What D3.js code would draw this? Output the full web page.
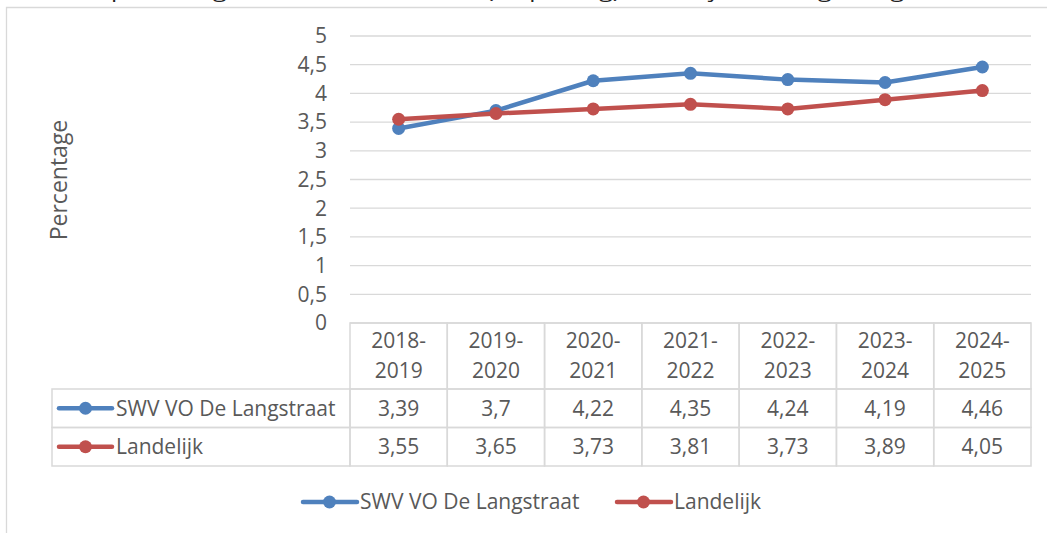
<!DOCTYPE html>
<meta charset="utf-8">
<style>
body { margin: 0; background: #fff; }
text { font-family: "Open Sans", sans-serif; fill: #595959; }
.grid line { stroke: #d9d9d9; stroke-width: 1.3; }
.cell { fill: none; stroke: #d9d9d9; stroke-width: 1.5; }
</style>
<body>
<script src="https://d3js.org/d3.v7.min.js"></script>
<script>

// data
var years = ["2018-2019", "2019-2020", "2020-2021", "2021-2022", "2022-2023", "2023-2024", "2024-2025"];
var seriesNames = ["SWV VO De Langstraat", "Landelijk"];
var swvValues = [3.39, 3.7, 4.22, 4.35, 4.24, 4.19, 4.46];
var landelijkValues = [3.55, 3.65, 3.73, 3.81, 3.73, 3.89, 4.05];
var yTicks = [0, 0.5, 1, 1.5, 2, 2.5, 3, 3.5, 4, 4.5, 5];
var colors = ["#4f81bd", "#c0504d"];

var width = 1047, height = 533;
var fs = "21px";

var svg = d3.select("body").append("svg")
    .attr("width", width)
    .attr("height", height);

// caption that sits mostly above the picture
svg.append("text")
    .attr("x", 15).attr("y", -2)
    .attr("textLength", 910).attr("lengthAdjust", "spacingAndGlyphs")
    .style("font-size", "19px").style("fill", "#222")
    .text("Grafiek: percentage thuiszitters in het vo (de peildag), landelijk en in eigen regio");

// outer chart border (runs off the right and bottom edge)
svg.append("path")
    .attr("d", "M6.5," + (height + 5) + "V7.5H" + (width + 5))
    .attr("fill", "none").attr("stroke", "#d9d9d9").attr("stroke-width", 1.3);

// scales
var x = d3.scaleBand().domain(years).range([350, 1031]);
var y = d3.scaleLinear().domain([0, 5]).range([323, 36]);

var fmt = function(v) { return String(v).replace(".", ","); };

// gridlines
svg.append("g").attr("class", "grid")
  .selectAll("line").data(yTicks).enter().append("line")
    .attr("x1", 350).attr("x2", 1031)
    .attr("y1", function(d) { return y(d); })
    .attr("y2", function(d) { return y(d); });

// y axis labels
svg.append("g").selectAll("text").data(yTicks).enter().append("text")
    .attr("x", 327)
    .attr("y", function(d) { return y(d); })
    .attr("dy", "0.35em")
    .attr("text-anchor", "end")
    .style("font-size", fs)
    .text(fmt);

// y axis title
svg.append("text")
    .attr("transform", "translate(67,180) rotate(-90)")
    .attr("text-anchor", "middle")
    .style("font-size", "23px")
    .text("Percentage");

// lines
var series = [swvValues, landelijkValues];
var line = d3.line()
    .x(function(d, i) { return x(years[i]) + x.bandwidth() / 2; })
    .y(function(d) { return y(d); });

series.forEach(function(vals, s) {
  svg.append("path")
      .datum(vals)
      .attr("d", line)
      .attr("fill", "none")
      .attr("stroke", colors[s])
      .attr("stroke-width", 4.5)
      .attr("stroke-linejoin", "round");
  svg.append("g").selectAll("circle").data(vals).enter().append("circle")
      .attr("cx", function(d, i) { return x(years[i]) + x.bandwidth() / 2; })
      .attr("cy", function(d) { return y(d); })
      .attr("r", 6.5)
      .attr("fill", colors[s]);
});

// data table
var headTop = 323, headBottom = 389, rowH = 38.5, tableLeft = 52;
var table = svg.append("g");

years.forEach(function(yr, i) {
  var cx = x(yr), mid = cx + x.bandwidth() / 2;
  table.append("rect").attr("class", "cell")
      .attr("x", cx).attr("y", headTop)
      .attr("width", x.bandwidth()).attr("height", headBottom - headTop);
  var parts = yr.split("-");
  table.append("text").attr("x", mid).attr("y", 348).attr("text-anchor", "middle")
      .style("font-size", fs).text(parts[0] + "-");
  table.append("text").attr("x", mid).attr("y", 378).attr("text-anchor", "middle")
      .style("font-size", fs).text(parts[1]);
});

series.forEach(function(vals, s) {
  var top = headBottom + s * rowH;
  table.append("rect").attr("class", "cell")
      .attr("x", tableLeft).attr("y", top)
      .attr("width", 350 - tableLeft).attr("height", rowH);
  vals.forEach(function(v, i) {
    table.append("rect").attr("class", "cell")
        .attr("x", x(years[i])).attr("y", top)
        .attr("width", x.bandwidth()).attr("height", rowH);
    table.append("text")
        .attr("x", x(years[i]) + x.bandwidth() / 2)
        .attr("y", top + rowH / 2).attr("dy", "0.35em")
        .attr("text-anchor", "middle")
        .style("font-size", fs)
        .text(fmt(v));
  });
  // legend key inside the row
  var ky = top + rowH / 2;
  table.append("line").attr("x1", 59).attr("x2", 112).attr("y1", ky).attr("y2", ky)
      .attr("stroke", colors[s]).attr("stroke-width", 4.5).attr("stroke-linecap", "round");
  table.append("circle").attr("cx", 85.5).attr("cy", ky).attr("r", 6.5).attr("fill", colors[s]);
  table.append("text").attr("x", 116).attr("y", ky).attr("dy", "0.35em")
      .style("font-size", fs).text(seriesNames[s]);
});

// bottom legend
var legendX = [302, 616], legendY = 502;
seriesNames.forEach(function(name, s) {
  var g = svg.append("g").attr("transform", "translate(" + legendX[s] + "," + legendY + ")");
  g.append("line").attr("x1", 1).attr("x2", 55)
      .attr("stroke", colors[s]).attr("stroke-width", 4.5).attr("stroke-linecap", "round");
  g.append("circle").attr("cx", 27.5).attr("r", 6.5).attr("fill", colors[s]);
  g.append("text").attr("x", 58).attr("dy", "0.35em")
      .style("font-size", fs).text(name);
});

</script>
</body>
